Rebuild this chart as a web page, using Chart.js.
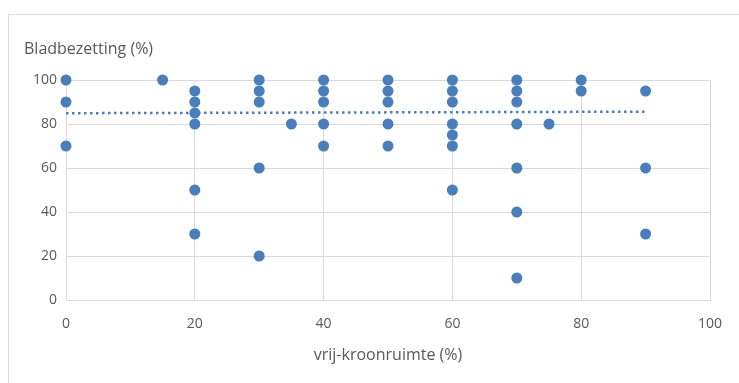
<!DOCTYPE html>
<html>
<head>
<meta charset="utf-8">
<script src="https://cdn.jsdelivr.net/npm/chart.js@4/dist/chart.umd.min.js"></script>
<style>
  html, body { margin: 0; padding: 0; background: #fff; }
  #wrap { width: 739px; height: 383px; }
</style>
</head>
<body>
<div id="wrap"><canvas id="chart"></canvas></div>
<script>
'use strict';

// vrij-kroonruimte (%) vs bladbezetting (%)
const xValues = [
    0, 0, 0,
    15,
    20, 20, 20, 20, 20, 20,
    30, 30, 30, 30, 30,
    35,
    40, 40, 40, 40, 40,
    50, 50, 50, 50, 50,
    60, 60, 60, 60, 60, 60, 60,
    70, 70, 70, 70, 70, 70, 70,
    75,
    80, 80,
    90, 90, 90,
];
const yValues = [
    100, 90, 70,
    100,
    95, 90, 85, 80, 50, 30,
    100, 95, 90, 60, 20,
    80,
    100, 95, 90, 80, 70,
    100, 95, 90, 80, 70,
    100, 95, 90, 80, 75, 70, 50,
    100, 95, 90, 80, 60, 40, 10,
    80,
    100, 95,
    95, 60, 30,
];
// linear trend line
const trendX = [0, 90];
const trendY = [84.9, 85.6];

const xTicks = [0, 20, 40, 60, 80, 100];
const yTicks = [0, 20, 40, 60, 80, 100];

const yTitle = 'Bladbezetting (%)';
const xTitle = 'vrij-kroonruimte (%)';

const FONT = "'Open Sans', sans-serif";
const dotColor = '#4a7ebb';
const gridColor = '#d9d9d9';
const textColor = '#595959';

// frame + axis titles
const decorations = {
    id: 'decorations',
    beforeDraw(chart) {
        const c = chart.ctx;
        c.save();
        c.strokeStyle = gridColor;
        c.lineWidth = 1;
        c.beginPath();
        c.moveTo(8.5, 383);
        c.lineTo(8.5, 14.5);
        c.lineTo(739, 14.5);
        c.stroke();
        c.restore();
    },
    afterDraw(chart) {
        const c = chart.ctx;
        c.save();
        c.fillStyle = textColor;
        c.font = '16px ' + FONT;
        c.textBaseline = 'alphabetic';
        c.textAlign = 'left';
        c.fillText(yTitle, 24, 54);
        c.textAlign = 'center';
        c.fillText(xTitle, (chart.chartArea.left + chart.chartArea.right) / 2, 360);
        c.restore();
    }
};

const points = xValues.map((x, i) => ({ x, y: yValues[i] }));
const trend = trendX.map((x, i) => ({ x, y: trendY[i] }));

new Chart(document.getElementById('chart'), {
    type: 'scatter',
    data: {
        datasets: [
            {
                label: 'Bladbezetting',
                data: points,
                backgroundColor: dotColor,
                borderColor: dotColor,
                pointRadius: 5.5,
                pointBorderWidth: 0,
                clip: false,
                order: 1,
            },
            {
                label: 'Trend',
                type: 'line',
                data: trend,
                borderColor: dotColor,
                borderWidth: 2.5,
                borderDash: [2.5, 3.5],
                pointRadius: 0,
                fill: false,
                order: 2,
            },
        ],
    },
    options: {
        responsive: true, maintainAspectRatio: false,
        animation: false,
        layout: { padding: { left: 16, right: 29, top: 80, bottom: 0 } },
        plugins: {
            legend: { display: false },
            tooltip: { enabled: false },
        },
        scales: {
            x: {
                type: 'linear', min: 0, max: 100,
                afterFit: s => { s.height = 83; },
                afterBuildTicks: s => { s.ticks = xTicks.map(v => ({ value: v })); },
                grid: { color: gridColor, drawTicks: false },
                border: { color: gridColor },
                ticks: { color: textColor, padding: 16, font: { family: FONT, size: 14 } },
            },
            y: {
                type: 'linear', min: 0, max: 100,
                afterFit: s => { s.width = 50; },
                afterBuildTicks: s => { s.ticks = yTicks.map(v => ({ value: v })); },
                grid: { color: gridColor, drawTicks: false },
                border: { display: false },
                ticks: { color: textColor, padding: 9, font: { family: FONT, size: 14 } },
            },
        },
    },
    plugins: [decorations],
});
</script>
</body>
</html>
